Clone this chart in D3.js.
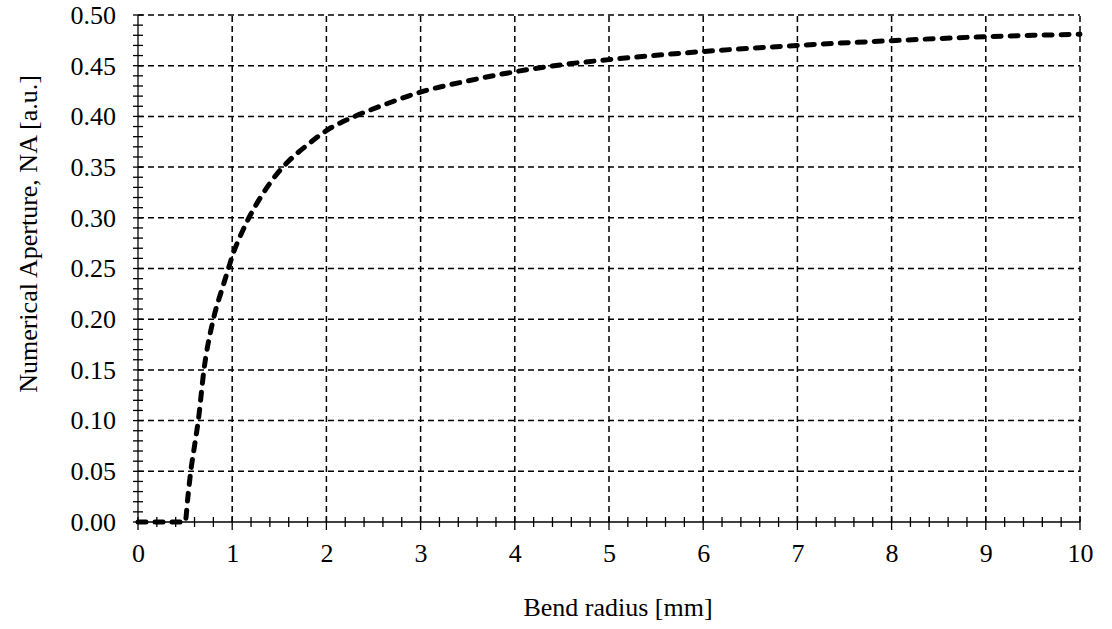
<!DOCTYPE html>
<html>
<head>
<meta charset="utf-8">
<script src="https://cdn.jsdelivr.net/npm/d3@7"></script>
<style>
  body { margin: 0; background: #fff; }
  text { font-family: "Liberation Serif", "Times New Roman", serif; fill: #000; }
  .tick text { font-size: 26px; }
  .axis path, .axis line { stroke: none; }
  .grid line { stroke: #000; stroke-width: 1.5; stroke-dasharray: 6,4; }
  .mtick { stroke: #000; stroke-width: 1.3; }
  .curve { fill: none; stroke: #000; stroke-width: 5; stroke-dasharray: 8,9; stroke-linecap: round; }
</style>
</head>
<body>
<div id="chart"></div>
<script>
// bend radius [mm]
var radius = [0, 0.5, 0.53, 0.56, 0.6, 0.64, 0.7, 0.8, 0.9, 0.96, 1.0, 1.1, 1.2, 1.3, 1.4, 1.5, 1.6, 1.8, 2.0, 2.3, 2.6, 3.0, 3.5, 4.0, 4.5, 5.0, 6.0, 7.0, 8.0, 9.0, 10.0];
// numerical aperture [a.u.]
var aperture = [0, 0, 0.025, 0.05, 0.075, 0.10, 0.15, 0.20, 0.232, 0.25, 0.262, 0.285, 0.304, 0.320, 0.334, 0.346, 0.356, 0.372, 0.386, 0.40, 0.411, 0.424, 0.435, 0.444, 0.451, 0.456, 0.464, 0.470, 0.4747, 0.4786, 0.481];

var xTicks = [0, 1, 2, 3, 4, 5, 6, 7, 8, 9, 10];
var yTicks = [0, 0.05, 0.10, 0.15, 0.20, 0.25, 0.30, 0.35, 0.40, 0.45, 0.50];

var width = 1112, height = 629;
var margin = {top: 15, right: 32, bottom: 107, left: 138};

var svg = d3.select("#chart")
  .append("svg")
  .attr("width", width)
  .attr("height", height);

var x = d3.scaleLinear().domain([0, 10]).range([margin.left, width - margin.right]);
var y = d3.scaleLinear().domain([0, 0.5]).range([height - margin.bottom, margin.top]);

// grid lines
var grid = svg.append("g").attr("class", "grid");
grid.selectAll(".gx")
  .data(xTicks.slice(1))
  .enter().append("line")
  .attr("x1", function(d) { return x(d); })
  .attr("x2", function(d) { return x(d); })
  .attr("y1", y(0))
  .attr("y2", y(0.5));
grid.selectAll(".gy")
  .data(yTicks.slice(1))
  .enter().append("line")
  .attr("x1", x(0))
  .attr("x2", x(10))
  .attr("y1", function(d) { return y(d); })
  .attr("y2", function(d) { return y(d); });

// axis lines
svg.append("line").attr("class", "mtick")
  .attr("x1", x(0)).attr("x2", x(10)).attr("y1", y(0)).attr("y2", y(0));
svg.append("line").attr("class", "mtick")
  .attr("x1", x(0)).attr("x2", x(0)).attr("y1", y(0)).attr("y2", y(0.5));

// minor ticks crossing the axes
svg.selectAll(".ytk")
  .data(y.ticks(50))
  .enter().append("line")
  .attr("class", "mtick")
  .attr("x1", x(0) - 5).attr("x2", x(0) + 5)
  .attr("y1", function(d) { return y(d); })
  .attr("y2", function(d) { return y(d); });

svg.selectAll(".xtk")
  .data(x.ticks(50))
  .enter().append("line")
  .attr("class", "mtick")
  .attr("x1", function(d) { return x(d); })
  .attr("x2", function(d) { return x(d); })
  .attr("y1", function(d) { return y(0) - 5; })
  .attr("y2", function(d) { return y(0) + (Math.abs(d - Math.round(d)) < 1e-6 ? 8 : 5); });

// axis labels through d3 axes
svg.append("g")
  .attr("class", "axis")
  .attr("transform", "translate(0," + y(0) + ")")
  .call(d3.axisBottom(x).tickValues(xTicks).tickSize(0).tickPadding(22).tickFormat(d3.format("d")));

svg.append("g")
  .attr("class", "axis")
  .attr("transform", "translate(" + x(0) + ",0)")
  .call(d3.axisLeft(y).tickValues(yTicks).tickSize(0).tickPadding(22).tickFormat(d3.format(".2f")));

svg.selectAll(".axis text").attr("font-family", null);

// curve
var line = d3.line()
  .x(function(d, i) { return x(radius[i]); })
  .y(function(d) { return y(d); })
  .curve(d3.curveMonotoneX);

svg.append("path")
  .datum(aperture)
  .attr("class", "curve")
  .attr("d", line);

// titles
svg.append("text")
  .attr("x", 618)
  .attr("y", 616)
  .style("font-size", "26px")
  .style("text-anchor", "middle")
  .text("Bend radius [mm]");

svg.append("text")
  .attr("transform", "translate(37,234)rotate(-90)")
  .style("font-size", "26px")
  .style("text-anchor", "middle")
  .text("Numerical Aperture, NA [a.u.]");
</script>
</body>
</html>
